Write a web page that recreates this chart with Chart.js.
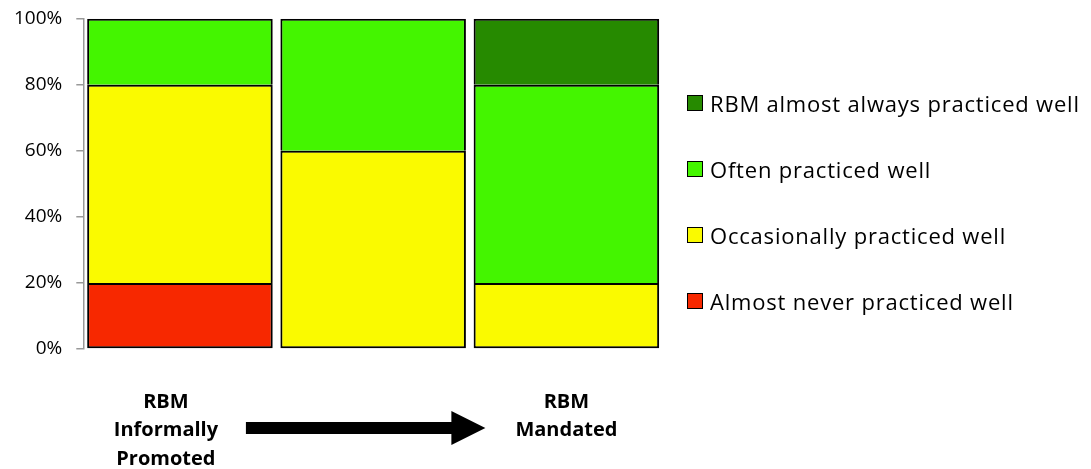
<!DOCTYPE html>
<html>
<head>
<meta charset="utf-8">
<script src="https://cdn.jsdelivr.net/npm/chart.js@4"></script>
<style>
  body { margin: 0; background: #fff; }
  #wrap { position: relative; width: 1091px; height: 469px; }
  #legend { position: absolute; left: 687px; top: 70px; font-family: "Open Sans", sans-serif; font-size: 22px; letter-spacing: 0.8px; color: #000; }
  #legend .item { display: flex; align-items: center; height: 66px; white-space: nowrap; }
  #legend .box { width: 14px; height: 14px; border: 1px solid #000; margin-right: 7px; }
</style>
</head>
<body>
<div id="wrap">
  <canvas id="rbm" width="1091" height="469"></canvas>
  <div id="legend"></div>
</div>
<script>
var categories = ['Informally promoted', 'Middle', 'Mandated'];
var groupLabels = [['RBM', 'Informally', 'Promoted'], [], ['RBM', 'Mandated']];
var seriesNames = ['Almost never practiced well', 'Occasionally practiced well', 'Often practiced well', 'RBM almost always practiced well'];
var almostNever = [20, 0, 0];
var occasionally = [60, 60, 20];
var often = [20, 40, 60];
var almostAlways = [0, 0, 20];
var colors = ['#f72800', '#fafa00', '#44f500', '#268a00'];
var yTicks = [0, 20, 40, 60, 80, 100];

const canvas = document.getElementById('rbm');
const ctx = canvas.getContext('2d');

var allValues = [almostNever, occasionally, often, almostAlways];

// segments sitting on another segment skip their bottom edge, so joins get one line
function segBorder(c) {
  var below = 0;
  for (var k = 0; k < c.datasetIndex; k++) below += allValues[k][c.dataIndex];
  return below > 0 ? { top: 2, left: 2, right: 2, bottom: 0 } : 2;
}

var datasets = [];
var i;
for (i = 0; i < seriesNames.length; i++) {
  datasets.push({
    label: seriesNames[i],
    data: allValues[i],
    backgroundColor: colors[i],
    borderColor: '#000',
    borderWidth: segBorder,
    borderSkipped: false,
    categoryPercentage: 1,
    barPercentage: 0.96
  });
}

// light shadow behind bars
var shadowPlugin = {
  id: 'shadow',
  beforeDatasetsDraw: function(chart) {
    var c = chart.ctx;
    c.save();
    c.shadowColor = 'rgba(0,0,0,0.25)';
    c.shadowBlur = 2;
    c.shadowOffsetX = 1;
    c.shadowOffsetY = 0;
  },
  afterDatasetsDraw: function(chart) {
    chart.ctx.restore();
  }
};

// group captions and the arrow under the bars
var bottomPlugin = {
  id: 'bottom',
  afterDraw: function(chart) {
    var c = chart.ctx;
    var x = chart.scales.x;
    var base = chart.chartArea.bottom;
    c.save();
    c.fillStyle = '#000';
    c.font = 'bold 20px "Open Sans", sans-serif';
    c.textAlign = 'center';
    c.textBaseline = 'middle';
    var offsets = [-14, 0, 0];
    for (var g = 0; g < groupLabels.length; g++) {
      var cx = x.getPixelForValue(g) + offsets[g];
      for (var l = 0; l < groupLabels[g].length; l++) {
        c.fillText(groupLabels[g][l], cx, base + 53 + l * 28.5);
      }
    }
    var x0 = x.getPixelForValue(0) + 66;
    var x1 = x.getPixelForValue(2) - 81;
    var y = base + 79;
    c.fillRect(x0, y - 6, x1 - 33 - x0, 12);
    c.beginPath();
    c.moveTo(x1 - 34, y - 17);
    c.lineTo(x1, y);
    c.lineTo(x1 - 34, y + 17);
    c.closePath();
    c.fill();
    c.restore();
  }
};

var rbmChart = new Chart(ctx, {
  type: 'bar',
  data: { labels: categories, datasets: datasets },
  options: {
    responsive: false,
    animation: false,
    layout: { padding: { left: 0, top: 11, right: 428, bottom: 120 } },
    plugins: { legend: { display: false }, tooltip: { enabled: false } },
    scales: {
      x: { stacked: true, display: false },
      y: {
        stacked: true,
        min: 0,
        max: 100,
        afterBuildTicks: function(axis) {
          axis.ticks = yTicks.map(function(v) { return { value: v }; });
        },
        ticks: {
          padding: 14,
          color: '#000',
          font: { family: 'Open Sans', size: 19, lineHeight: 0.5 },
          callback: function(v) { return v + '%'; }
        },
        grid: { drawOnChartArea: false, tickLength: 7, color: '#999', lineWidth: 1.5 },
        border: { color: '#999', width: 1.5 }
      }
    }
  },
  plugins: [shadowPlugin, bottomPlugin]
});

// legend, top entry first
var legend = document.getElementById('legend');
for (i = rbmChart.data.datasets.length - 1; i >= 0; i--) {
  var ds = rbmChart.data.datasets[i];
  var item = document.createElement('div');
  item.className = 'item';
  var box = document.createElement('span');
  box.className = 'box';
  box.style.background = ds.backgroundColor;
  var txt = document.createElement('span');
  txt.textContent = ds.label;
  item.appendChild(box);
  item.appendChild(txt);
  legend.appendChild(item);
}
</script>
</body>
</html>
